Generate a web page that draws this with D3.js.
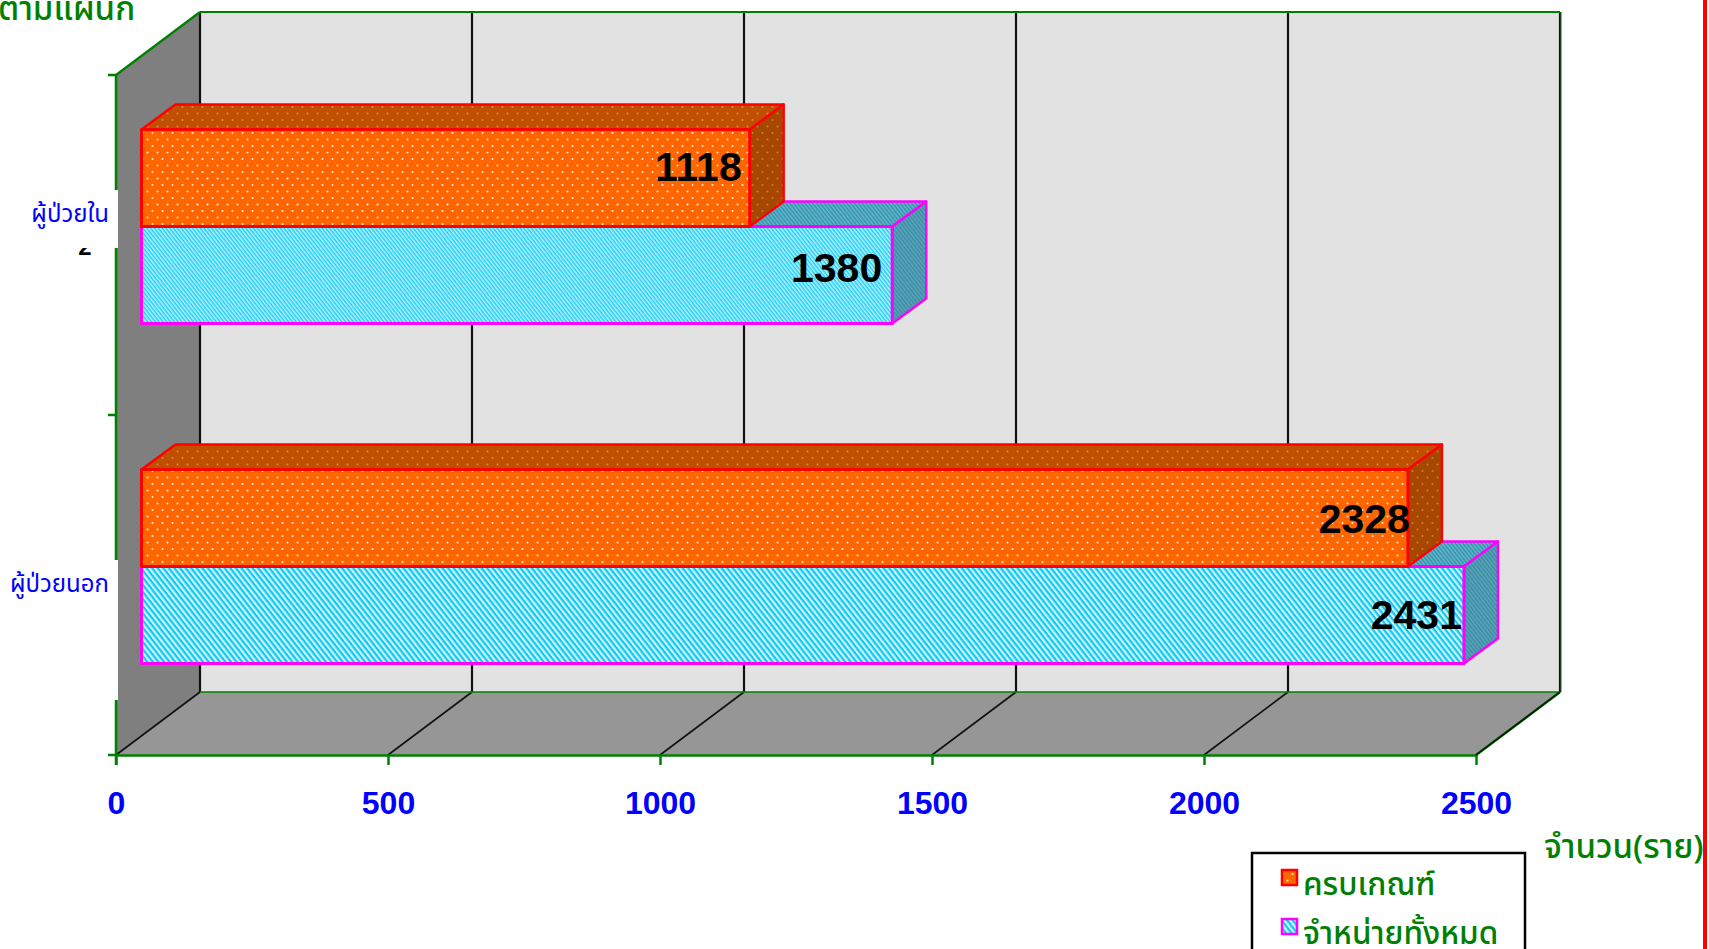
<!DOCTYPE html>
<html>
<head>
<meta charset="utf-8">
<script src="https://cdn.jsdelivr.net/npm/d3@7"></script>
<style>
  html, body { margin: 0; padding: 0; background: #fff; overflow: hidden; }
  svg { display: block; }
  .thai { font-family: "Noto Sans Thai", "Noto Sans", "DejaVu Sans", sans-serif; }
  .num { font-family: "Liberation Sans", Arial, sans-serif; font-weight: bold; }
</style>
</head>
<body>
<div id="chart"></div>
<script>
const categories = ["ผู้ป่วยใน", "ผู้ป่วยนอก"];
const seriesNames = ["ครบเกณฑ์", "จำหน่ายทั้งหมด"];
const complete = [1118, 2328];
const discharged = [1380, 2431];
const xTicks = [0, 500, 1000, 1500, 2000, 2500];

const width = 1709, height = 949;
const depth = {x: 84, y: 63};
const barDepth = {x: 34, y: 25};
const barShift = {x: 25.5, y: 18.5};

const svg = d3.select("#chart").append("svg")
    .attr("width", width)
    .attr("height", height);

const x = d3.scaleLinear().domain([0, 2500]).range([116, 1476]);
const yCat = d3.scaleBand().domain(categories).range([75, 755]);
const ySeries = d3.scaleBand().domain(seriesNames).range([73, 267]);
const yBottom = yCat.range()[1], yTop = yCat.range()[0];

// fill patterns
const defs = svg.append("defs");
function dots(id, bg, dot, op) {
    let p = defs.append("pattern").attr("id", id)
        .attr("patternUnits", "userSpaceOnUse").attr("width", 10).attr("height", 13);
    p.append("rect").attr("width", 10).attr("height", 13).attr("fill", bg);
    p.append("circle").attr("cx", 2.5).attr("cy", 3).attr("r", 1).attr("fill", dot).attr("opacity", op);
    p.append("circle").attr("cx", 7.5).attr("cy", 9.5).attr("r", 1).attr("fill", dot).attr("opacity", op);
}
function stripes(id, bg, line, w) {
    let p = defs.append("pattern").attr("id", id)
        .attr("patternUnits", "userSpaceOnUse").attr("width", w).attr("height", w)
        .attr("patternTransform", "rotate(52)");
    p.append("rect").attr("width", w).attr("height", w).attr("fill", bg);
    p.append("rect").attr("width", w).attr("height", w / 2).attr("fill", line);
}
dots("dotFront", "#ff6600", "#fff0e0", 1);
dots("dotTop", "#c05000", "#e8a070", 0.7);
dots("dotSide", "#a84800", "#d89060", 0.7);
stripes("lineFront", "#c8f6ff", "#14c6f0", 4.4);
stripes("lineFine", "#b4f2ff", "#22cef4", 3);
stripes("lineTop", "#6fb4c6", "#2a94b2", 3);
stripes("lineSide", "#5ca4b8", "#3a8ca6", 3);

function poly(pts, fill, stroke, sw) {
    return svg.append("path")
        .attr("d", d3.line()(pts) + "Z")
        .attr("fill", fill)
        .attr("stroke", stroke || "none")
        .attr("stroke-width", sw || 0)
        .attr("stroke-linejoin", "round");
}
function seg(xa, ya, xb, yb, color, sw) {
    svg.append("line").attr("x1", xa).attr("y1", ya).attr("x2", xb).attr("y2", yb)
        .attr("stroke", color).attr("stroke-width", sw);
}

// walls and floor
const x0 = x(0), x1 = x(2500);
poly([[x0 + depth.x, yTop - depth.y], [x1 + depth.x, yTop - depth.y], [x1 + depth.x, yBottom - depth.y], [x0 + depth.x, yBottom - depth.y]], "#e2e2e2");
poly([[x0, yTop], [x0 + depth.x, yTop - depth.y], [x0 + depth.x, yBottom - depth.y], [x0, yBottom]], "#7f7f7f");
poly([[x0, yBottom], [x0 + depth.x, yBottom - depth.y], [x1 + depth.x, yBottom - depth.y], [x1, yBottom]], "#969696");

// gridlines
xTicks.forEach(function (t) {
    seg(x(t), yBottom, x(t) + depth.x, yBottom - depth.y, "#111", 1.6);
    seg(x(t) + depth.x, yBottom - depth.y, x(t) + depth.x, yTop - depth.y, "#111", 2.2);
});

// wall edges
seg(x0 + depth.x, yTop - depth.y, x1 + depth.x, yTop - depth.y, "#008000", 2.2);
seg(x0 + depth.x, yBottom - depth.y, x1 + depth.x, yBottom - depth.y, "#008000", 1.5);
seg(x1 + depth.x + 1, yTop - depth.y, x1 + depth.x + 1, yBottom - depth.y, "#2a7a2a", 1);
seg(x0, yTop, x0 + depth.x, yTop - depth.y, "#008000", 2.2);

// bars, one box per value
function box(cat, name, value, front, topFill, side, stroke) {
    let xa = x(0) + barShift.x, xb = x(value) + barShift.x;
    let ya = yCat(cat) + ySeries(name) - barShift.y, yb = ya + ySeries.bandwidth();
    let dx = barDepth.x, dy = barDepth.y;
    poly([[xa, ya], [xa + dx, ya - dy], [xb + dx, ya - dy], [xb, ya]], topFill, stroke, 2.4);
    poly([[xb, ya], [xb + dx, ya - dy], [xb + dx, yb - dy], [xb, yb]], side, stroke, 2.4);
    poly([[xa, ya], [xb, ya], [xb, yb], [xa, yb]], front, stroke, 3);
}
const dischargedFront = ["url(#lineFine)", "url(#lineFront)"];
categories.forEach(function (c, i) {
    box(c, seriesNames[1], discharged[i], dischargedFront[i], "url(#lineTop)", "url(#lineSide)", "#ff00ff");
    box(c, seriesNames[0], complete[i], "url(#dotFront)", "url(#dotTop)", "url(#dotSide)", "#ff0000");
});

// value labels
const completeNudge = [{x: -8, y: 3}, {x: 2, y: 15}];
const dischargedNudge = [{x: -10, y: 7}, {x: -2, y: 14}];
function valueLabel(cat, name, value, nudge) {
    svg.append("text").attr("class", "num")
        .attr("x", x(value) + barShift.x + nudge.x)
        .attr("y", yCat(cat) + ySeries(name) - barShift.y + ySeries.bandwidth() / 2 + nudge.y)
        .attr("text-anchor", "end")
        .attr("font-size", 41)
        .attr("fill", "#000")
        .text(value);
}
categories.forEach(function (c, i) {
    valueLabel(c, seriesNames[0], complete[i], completeNudge[i]);
    valueLabel(c, seriesNames[1], discharged[i], dischargedNudge[i]);
});

// left axis, partly hidden by the label boxes
seg(x0, yTop, x0, yBottom + 10, "#008000", 2.5);
[yTop, yCat(categories[1]), yBottom].forEach(function (t) {
    seg(x0 - 8, t, x0, t, "#008000", 2.5);
});
svg.append("text").attr("class", "num").attr("x", 85).attr("y", 255)
    .attr("text-anchor", "middle").attr("font-size", 24).attr("fill", "#000").text("2");
svg.append("rect").attr("x", 0).attr("y", 190).attr("width", 118).attr("height", 58).attr("fill", "#fff");
svg.append("rect").attr("x", 0).attr("y", 560).attr("width", 118).attr("height", 140).attr("fill", "#fff");

const catLabelY = [147, 177];
categories.forEach(function (c, i) {
    svg.append("text").attr("class", "thai")
        .attr("x", 109).attr("y", yCat(c) + catLabelY[i])
        .attr("text-anchor", "end").attr("font-size", 24).attr("fill", "#0000ff").text(c);
});

// bottom axis
const xAxis = d3.axisBottom(x).tickValues(xTicks).tickSize(10).tickSizeOuter(0).tickFormat(d3.format("d"));
const gx = svg.append("g").attr("transform", "translate(0," + yBottom + ")").call(xAxis);
gx.select(".domain").attr("stroke", "#008000").attr("stroke-width", 2.5);
gx.selectAll(".tick line").attr("stroke", "#008000").attr("stroke-width", 2.5);
gx.selectAll(".tick text").attr("class", "num").attr("font-size", 32).attr("fill", "#0000ff")
    .attr("y", 59).attr("dy", 0);
seg(x1, yBottom, x1 + depth.x, yBottom - depth.y, "#008000", 2.6);
seg(x1, yBottom, x1 + depth.x, yBottom - depth.y, "#111", 1.4);

// titles
svg.append("text").attr("class", "thai").attr("x", -2).attr("y", 20)
    .attr("font-size", 33).attr("font-weight", 500).attr("fill", "#008000").text("ตามแผนก");
svg.append("text").attr("class", "thai").attr("x", 1544).attr("y", 858)
    .attr("font-size", 33).attr("font-weight", 500).attr("fill", "#008000").text("จำนวน(ราย)");

// legend
svg.append("rect").attr("x", 1252).attr("y", 853).attr("width", 273).attr("height", 120)
    .attr("fill", "#fff").attr("stroke", "#000").attr("stroke-width", 2.5);
const legendFill = ["url(#dotFront)", "url(#lineFront)"];
const legendStroke = ["#ff0000", "#ff00ff"];
const legendY = d3.scalePoint().domain(seriesNames).range([877, 926]);
seriesNames.forEach(function (n, i) {
    svg.append("rect").attr("x", 1282).attr("y", legendY(n) - 7).attr("width", 15).attr("height", 15)
        .attr("fill", legendFill[i]).attr("stroke", legendStroke[i]).attr("stroke-width", 2.5);
    svg.append("text").attr("class", "thai").attr("x", 1303).attr("y", legendY(n) + 18)
        .attr("font-size", 31.5).attr("font-weight", 500).attr("fill", "#008000").text(n);
});

// red frame edge on the right
seg(1705, 0, 1705, height, "#ff0000", 4);
</script>
</body>
</html>
